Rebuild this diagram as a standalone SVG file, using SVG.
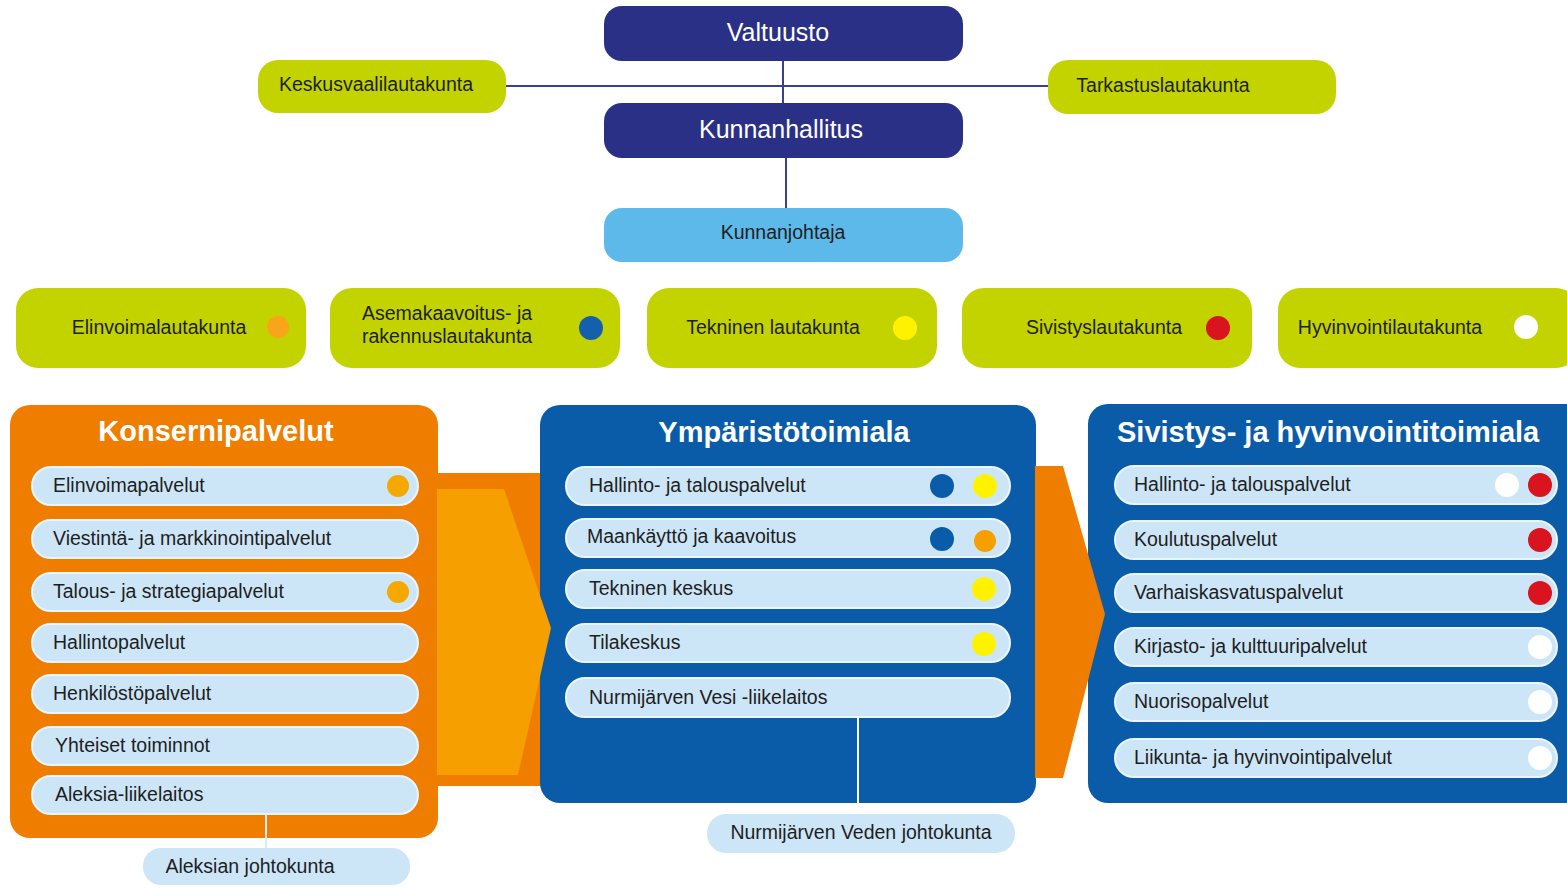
<svg xmlns="http://www.w3.org/2000/svg" width="1567" height="888" viewBox="0 0 1567 888">
<style>
.t{font-family:"Liberation Sans",Arial,sans-serif;fill:#1e1e1e;font-size:19.5px}
.tw{font-family:"Liberation Sans",Arial,sans-serif;fill:#ffffff;font-size:25px}
.title{font-family:"Liberation Sans",Arial,sans-serif;fill:#ffffff;font-size:29px;font-weight:bold}
.navy{fill:#2b3087}
.green{fill:#c2d300}
.pill{fill:#cde6f7;stroke:#eaf5fc;stroke-width:2}
.conn{stroke:#3a3f8f;stroke-width:2;fill:none}
.wconn{stroke:#ffffff;stroke-width:2;fill:none}
.lconn{stroke:#d7ebf8;stroke-width:2;fill:none}
</style>
<rect width="1567" height="888" fill="#ffffff"/>

<g id="connectors">
<line class="conn" x1="506" y1="86" x2="1048" y2="86"/>
<line class="conn" x1="783" y1="61" x2="783" y2="103"/>
<line class="conn" x1="786" y1="158" x2="786" y2="208"/>
</g>

<g id="valtuusto"><rect class="navy" x="604" y="6" width="359" height="55" rx="18"/><text class="tw" x="778" y="41" text-anchor="middle">Valtuusto</text></g>
<g id="kunnanhallitus"><rect class="navy" x="604" y="103" width="359" height="55" rx="18"/><text class="tw" x="781" y="138" text-anchor="middle">Kunnanhallitus</text></g>
<g id="kunnanjohtaja"><rect fill="#5db9e9" x="604" y="208" width="359" height="54" rx="18"/><text class="t" x="783" y="239" text-anchor="middle">Kunnanjohtaja</text></g>
<g id="keskusvaalilautakunta"><rect class="green" x="258" y="60" width="248" height="53" rx="20"/><text class="t" x="376" y="91" text-anchor="middle">Keskusvaalilautakunta</text></g>
<g id="tarkastuslautakunta"><rect class="green" x="1048" y="60" width="288" height="54" rx="20"/><text class="t" x="1163" y="92" text-anchor="middle">Tarkastuslautakunta</text></g>

<g id="elinvoimalautakunta"><rect class="green" x="16" y="288" width="290" height="80" rx="22"/><text class="t" x="159" y="334" text-anchor="middle">Elinvoimalautakunta</text><circle cx="278" cy="327" r="11" fill="#f9a51a"/></g>
<g id="asemakaavoitus"><rect class="green" x="330" y="288" width="290" height="80" rx="22"/><text class="t" x="362" y="320">Asemakaavoitus- ja</text><text class="t" x="362" y="343">rakennuslautakunta</text><circle cx="591" cy="328" r="12" fill="#1560ad"/></g>
<g id="tekninen-lautakunta"><rect class="green" x="647" y="288" width="290" height="80" rx="22"/><text class="t" x="773" y="334" text-anchor="middle">Tekninen lautakunta</text><circle cx="905" cy="328" r="12" fill="#fff200"/></g>
<g id="sivistyslautakunta"><rect class="green" x="962" y="288" width="290" height="80" rx="22"/><text class="t" x="1104" y="334" text-anchor="middle">Sivistyslautakunta</text><circle cx="1218" cy="328" r="12" fill="#d9141e"/></g>
<g id="hyvinvointilautakunta"><rect class="green" x="1278" y="288" width="300" height="80" rx="22"/><text class="t" x="1390" y="334" text-anchor="middle">Hyvinvointilautakunta</text><circle cx="1526" cy="327" r="12" fill="#ffffff"/></g>

<g id="arrow-band">
<rect x="430" y="473" width="115" height="313" fill="#ef7d00"/>
</g>

<g id="konsernipalvelut">
<rect x="10" y="405" width="428" height="433" rx="20" fill="#ef7d00"/>
<text class="title" x="216" y="441" text-anchor="middle">Konsernipalvelut</text>
<g id="k1"><rect class="pill" x="32" y="467" width="386" height="38" rx="19"/><text class="t" x="53" y="492">Elinvoimapalvelut</text><circle cx="398" cy="486" r="11" fill="#f5a800"/></g>
<g id="k2"><rect class="pill" x="32" y="520" width="386" height="38" rx="19"/><text class="t" x="53" y="545">Viestintä- ja markkinointipalvelut</text></g>
<g id="k3"><rect class="pill" x="32" y="573" width="386" height="38" rx="19"/><text class="t" x="53" y="598">Talous- ja strategiapalvelut</text><circle cx="398" cy="592" r="11" fill="#f5a800"/></g>
<g id="k4"><rect class="pill" x="32" y="624" width="386" height="38" rx="19"/><text class="t" x="53" y="649">Hallintopalvelut</text></g>
<g id="k5"><rect class="pill" x="32" y="675" width="386" height="38" rx="19"/><text class="t" x="53" y="700">Henkilöstöpalvelut</text></g>
<g id="k6"><rect class="pill" x="32" y="727" width="386" height="38" rx="19"/><text class="t" x="55" y="752">Yhteiset toiminnot</text></g>
<g id="k7"><rect class="pill" x="32" y="776" width="386" height="38" rx="19"/><text class="t" x="55" y="801">Aleksia-liikelaitos</text></g>
</g>

<g id="ymparistotoimiala">
<rect x="540" y="405" width="496" height="398" rx="20" fill="#0a5ba8"/>
<text class="title" x="784" y="442" text-anchor="middle">Ympäristötoimiala</text>
<g id="y1"><rect class="pill" x="566" y="467" width="444" height="38" rx="19"/><text class="t" x="589" y="492">Hallinto- ja talouspalvelut</text><circle cx="942" cy="486" r="12" fill="#0a5ba8"/><circle cx="985" cy="486" r="12" fill="#fff200"/></g>
<g id="y2"><rect class="pill" x="566" y="519" width="444" height="38" rx="19"/><text class="t" x="587" y="543">Maankäyttö ja kaavoitus</text><circle cx="942" cy="539" r="12" fill="#0a5ba8"/><circle cx="985" cy="541" r="11" fill="#f5a000"/></g>
<g id="y3"><rect class="pill" x="566" y="570" width="444" height="38" rx="19"/><text class="t" x="589" y="595">Tekninen keskus</text><circle cx="984" cy="589" r="12" fill="#fff200"/></g>
<g id="y4"><rect class="pill" x="566" y="624" width="444" height="38" rx="19"/><text class="t" x="589" y="649">Tilakeskus</text><circle cx="984" cy="644" r="12" fill="#fff200"/></g>
<g id="y5"><rect class="pill" x="566" y="678" width="444" height="39" rx="19"/><text class="t" x="589" y="704">Nurmijärven Vesi -liikelaitos</text></g>
</g>

<g id="sivistystoimiala">
<rect x="1088" y="404" width="499" height="399" rx="20" fill="#0a5ba8"/>
<text class="title" x="1117" y="442">Sivistys- ja hyvinvointitoimiala</text>
<g id="s1"><rect class="pill" x="1115" y="466" width="442" height="38" rx="19"/><text class="t" x="1134" y="491">Hallinto- ja talouspalvelut</text><circle cx="1507" cy="485" r="12" fill="#ffffff"/><circle cx="1540" cy="485" r="12" fill="#d9141e"/></g>
<g id="s2"><rect class="pill" x="1115" y="521" width="442" height="38" rx="19"/><text class="t" x="1134" y="546">Koulutuspalvelut</text><circle cx="1540" cy="540" r="12" fill="#d9141e"/></g>
<g id="s3"><rect class="pill" x="1115" y="574" width="442" height="38" rx="19"/><text class="t" x="1134" y="599">Varhaiskasvatuspalvelut</text><circle cx="1540" cy="593" r="12" fill="#d9141e"/></g>
<g id="s4"><rect class="pill" x="1115" y="628" width="442" height="38" rx="19"/><text class="t" x="1134" y="653">Kirjasto- ja kulttuuripalvelut</text><circle cx="1540" cy="647" r="12" fill="#ffffff"/></g>
<g id="s5"><rect class="pill" x="1115" y="683" width="442" height="38" rx="19"/><text class="t" x="1134" y="708">Nuorisopalvelut</text><circle cx="1540" cy="702" r="12" fill="#ffffff"/></g>
<g id="s6"><rect class="pill" x="1115" y="739" width="442" height="38" rx="19"/><text class="t" x="1134" y="764">Liikunta- ja hyvinvointipalvelut</text><circle cx="1540" cy="758" r="12" fill="#ffffff"/></g>
</g>

<g id="arrows">
<polygon points="437,489 504,489 551,628 518,775 437,775" fill="#f5a000"/>
<polygon points="1035,466 1063,466 1105,614 1063,778 1035,778" fill="#ef7d00"/>
</g>

<g id="sub-connectors">
<line class="lconn" x1="266" y1="814" x2="266" y2="849"/>
<line class="wconn" x1="858" y1="717" x2="858" y2="815"/>
</g>

<g id="aleksian-johtokunta"><rect fill="#cde6f7" x="143" y="848" width="267" height="37" rx="18"/><text class="t" x="250" y="873" text-anchor="middle">Aleksian johtokunta</text></g>
<g id="veden-johtokunta"><rect fill="#cde6f7" x="707" y="814" width="308" height="39" rx="19"/><text class="t" x="861" y="839" text-anchor="middle">Nurmijärven Veden johtokunta</text></g>
</svg>
